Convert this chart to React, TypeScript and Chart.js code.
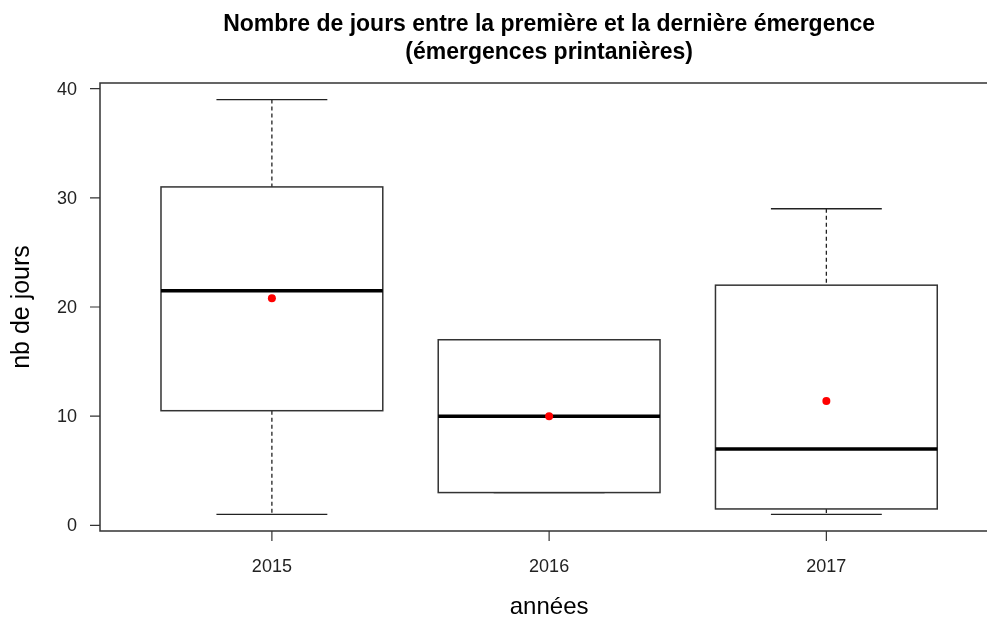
import React, { useEffect, useRef } from "react";
import { Chart, registerables } from "chart.js";

Chart.register(...registerables);

const categories = ["2015", "2016", "2017"];
const whiskerLow = [1, 3, 1];
const q1 = [10.5, 3, 1.5];
const median = [21.5, 10, 7];
const q3 = [31, 17, 22];
const whiskerHigh = [39, 17, 29];
const means = [20.8, 10, 11.4];
const yTicks = [0, 10, 20, 30, 40];

const titleLines = [
  "Nombre de jours entre la première et la dernière émergence",
  "(émergences printanières)",
];
const xTitle = "années";
const yTitle = "nb de jours";

const FONT = "'Liberation Sans', Arial, sans-serif";

const boxPlugin = {
  id: "rbox",
  beforeDatasetsDraw(chart: any) {
    const { ctx, scales } = chart;
    const xs = scales.x;
    const ys = scales.y;
    const unit = xs.getPixelForValue(2) - xs.getPixelForValue(1);
    const halfBox = unit * 0.4;
    const halfCap = unit * 0.2;
    ctx.save();
    for (let i = 0; i < categories.length; i++) {
      const cx = xs.getPixelForValue(i + 1);
      const yq1 = ys.getPixelForValue(q1[i]);
      const yq3 = ys.getPixelForValue(q3[i]);
      const ymed = ys.getPixelForValue(median[i]);
      const ylo = ys.getPixelForValue(whiskerLow[i]);
      const yhi = ys.getPixelForValue(whiskerHigh[i]);
      ctx.strokeStyle = "#222";
      ctx.lineWidth = 1.3;
      ctx.setLineDash([4, 3]);
      ctx.beginPath();
      ctx.moveTo(cx, yhi);
      ctx.lineTo(cx, yq3);
      ctx.moveTo(cx, yq1);
      ctx.lineTo(cx, ylo);
      ctx.stroke();
      ctx.setLineDash([]);
      ctx.beginPath();
      ctx.moveTo(cx - halfCap, yhi);
      ctx.lineTo(cx + halfCap, yhi);
      ctx.moveTo(cx - halfCap, ylo);
      ctx.lineTo(cx + halfCap, ylo);
      ctx.stroke();
      ctx.fillStyle = "#ffffff";
      ctx.fillRect(cx - halfBox, yq3, halfBox * 2, yq1 - yq3);
      ctx.strokeStyle = "#333";
      ctx.lineWidth = 1.5;
      ctx.strokeRect(cx - halfBox, yq3, halfBox * 2, yq1 - yq3);
      ctx.strokeStyle = "#000";
      ctx.lineWidth = 3.5;
      ctx.beginPath();
      ctx.moveTo(cx - halfBox, ymed);
      ctx.lineTo(cx + halfBox, ymed);
      ctx.stroke();
    }
    ctx.restore();
  },
  afterDraw(chart: any) {
    const { ctx, chartArea, scales } = chart;
    const xs = scales.x;
    const ys = scales.y;
    const { left, top, bottom, right } = chartArea;
    ctx.save();
    ctx.strokeStyle = "#333";
    ctx.lineWidth = 1.5;
    ctx.beginPath();
    ctx.moveTo(right + 20, top);
    ctx.lineTo(left, top);
    ctx.lineTo(left, bottom);
    ctx.lineTo(right + 20, bottom);
    ctx.stroke();
    ctx.fillStyle = "#222";
    ctx.font = `18px ${FONT}`;
    ctx.textAlign = "right";
    ctx.textBaseline = "middle";
    ctx.lineWidth = 1.2;
    ctx.beginPath();
    for (const v of yTicks) {
      const py = ys.getPixelForValue(v);
      ctx.moveTo(left - 10, py);
      ctx.lineTo(left, py);
      ctx.fillText(String(v), left - 23, py + 1);
    }
    ctx.stroke();
    ctx.textAlign = "center";
    ctx.beginPath();
    categories.forEach((c, i) => {
      const px = xs.getPixelForValue(i + 1);
      ctx.moveTo(px, bottom);
      ctx.lineTo(px, bottom + 10);
      ctx.fillText(c, px, bottom + 36);
    });
    ctx.stroke();
    const plotCenterX = (xs.getPixelForValue(xs.min) + xs.getPixelForValue(3.62)) / 2;
    ctx.fillStyle = "#000";
    ctx.font = `24px ${FONT}`;
    ctx.fillText(xTitle, plotCenterX, bottom + 76);
    ctx.save();
    ctx.font = `25px ${FONT}`;
    ctx.translate(22, (top + bottom) / 2);
    ctx.rotate(-Math.PI / 2);
    ctx.fillText(yTitle, 0, 0);
    ctx.restore();
    ctx.font = `bold 23px ${FONT}`;
    ctx.fillText(titleLines[0], plotCenterX, 25);
    ctx.fillText(titleLines[1], plotCenterX, 53);
    ctx.restore();
  },
};

export default function App() {
  const ref = useRef<HTMLCanvasElement>(null);
  useEffect(() => {
    if (!ref.current) return;
    const chart = new Chart(ref.current, {
      type: "scatter",
      data: {
        datasets: [
          {
            label: "moyenne",
            data: means.map((m, i) => ({ x: i + 1, y: m })),
            backgroundColor: "#ff0000",
            borderColor: "#ff0000",
            pointRadius: 4,
            pointBorderWidth: 0,
          },
        ],
      },
      options: {
        responsive: false,
        animation: false,
        events: [],
        layout: { padding: { left: 100, top: 83, right: 0, bottom: 92 } },
        plugins: {
          legend: { display: false },
          tooltip: { enabled: false },
          title: { display: false },
        },
        scales: {
          x: { type: "linear", min: 0.38, max: 3.565, display: false },
          y: { type: "linear", min: -0.52, max: 40.52, display: false },
        },
      },
      plugins: [boxPlugin],
    });
    return () => chart.destroy();
  }, []);
  return (
    <div style={{ position: "fixed", left: 0, top: 0, width: 987, height: 623, background: "#fff" }}>
      <canvas ref={ref} width={987} height={623} style={{ width: 987, height: 623 }} />
    </div>
  );
}
